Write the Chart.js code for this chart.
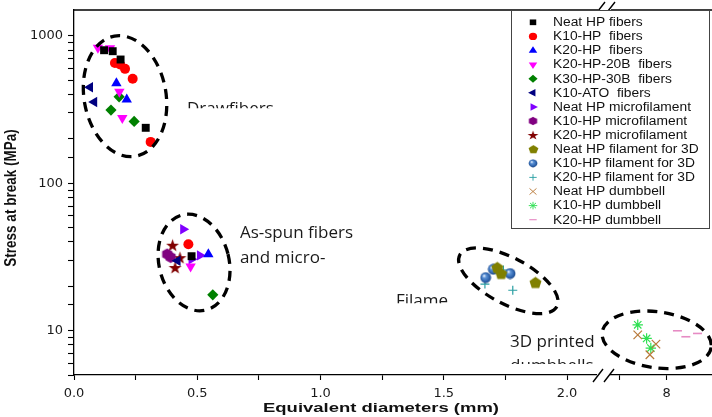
<!DOCTYPE html>
<html><head><meta charset="utf-8">
<script src="https://cdn.jsdelivr.net/npm/chart.js@4.4.1/dist/chart.umd.min.js"></script>
<style>html,body{margin:0;padding:0;background:#fff;overflow:hidden}</style>
</head><body>
<canvas id="c" width="712" height="417"></canvas>
<script>
// ---------- data ----------
const seriesNames = ['Neat HP fibers','K10-HP  fibers','K20-HP  fibers','K20-HP-20B  fibers','K30-HP-30B  fibers','K10-ATO  fibers','Neat HP microfilament','K10-HP microfilament','K20-HP microfilament','Neat HP filament for 3D','K10-HP filament for 3D','K20-HP filament for 3D','Neat HP dumbbell','K10-HP dumbbell','K20-HP dumbbell'];

const neatFibersX = [0.122, 0.157, 0.189, 0.291, 0.477];
const neatFibersY = [800, 788, 692, 238, 32];
const k10FibersX = [0.166, 0.187, 0.207, 0.238, 0.311, 0.464];
const k10FibersY = [656, 640, 598, 512, 191, 38.6];
const k20FibersX = [0.172, 0.214, 0.545];
const k20FibersY = [477, 371, 33];
const k20b20FibersX = [0.097, 0.146, 0.184, 0.196, 0.473];
const k20b20FibersY = [830, 825, 418, 277, 27.2];
const k30b30FibersX = [0.150, 0.183, 0.244, 0.563];
const k30b30FibersY = [314, 386, 263, 17.5];
const k10AtoFibersX = [0.065, 0.082, 0.420];
const k10AtoFibersY = [449, 356, 29.8];
const neatMicroX = [0.443, 0.477, 0.511];
const neatMicroY = [48.8, 30.5, 32.4];
const k10MicroX = [0.378, 0.392];
const k10MicroY = [33, 31.5];
const k20MicroX = [0.400, 0.430, 0.410];
const k20MicroY = [38, 31.3, 26.8];
const neatFil3dX = [1.715, 1.731, 1.870];
const neatFil3dY = [26.8, 24.4, 21.2];
const k10Fil3dX = [1.701, 1.769, 1.670];
const k10Fil3dY = [26.1, 24.4, 22.9];
const k20Fil3dX = [1.667, 1.742, 1.780];
const k20Fil3dY = [20.7, 25.8, 18.8];
const neatDumbX = [7.38, 7.77, 7.64];
const neatDumbY = [9.37, 8.1, 6.86];
const k10DumbX = [7.38, 7.57, 7.66];
const k10DumbY = [10.96, 8.85, 7.62];
const k20DumbX = [8.23, 8.41, 8.66];
const k20DumbY = [9.98, 9.09, 9.57];

const xMajorTicks = [0.0, 0.5, 1.0, 1.5, 2.0];
const x2MajorTicks = [8];
const yTickLabels = [10, 100, 1000];

// ---------- marker images ----------
function mk(size, draw){ const c=document.createElement('canvas'); c.width=size; c.height=size; draw(c.getContext('2d'), size/2); return c; }
function poly(g, c, n, r, start){ g.beginPath(); for(let i=0;i<n;i++){ const a=start+i*2*Math.PI/n; const px=c+r*Math.cos(a), py=c+r*Math.sin(a); if(i) g.lineTo(px,py); else g.moveTo(px,py);} g.closePath(); }
const hexImg = mk(13,(g,c)=>{ g.fillStyle='#800080'; poly(g,c,6,5.8,Math.PI/6); g.fill(); });
const pentImg = mk(14,(g,c)=>{ g.fillStyle='#808000'; poly(g,c+0.5,5,6.3,-Math.PI/2); g.fill(); });
const starImg = mk(15,(g,c)=>{ g.fillStyle='#800000'; g.beginPath(); for(let i=0;i<10;i++){ const r=i%2?2.7:6.8; const a=-Math.PI/2+i*Math.PI/5; const px=c+r*Math.cos(a), py=c+0.6+r*Math.sin(a); if(i) g.lineTo(px,py); else g.moveTo(px,py);} g.closePath(); g.fill(); });
const sphereImg = mk(12,(g,c)=>{ const gr=g.createRadialGradient(c-1.8,c-2,0.3,c,c,5.6); gr.addColorStop(0,'#f0f6ff'); gr.addColorStop(0.3,'#5d93d6'); gr.addColorStop(0.75,'#2d63ad'); gr.addColorStop(1,'#1c4683'); g.fillStyle=gr; g.beginPath(); g.arc(c,c,5.4,0,2*Math.PI); g.fill(); });

function pts(xs, ys){ return xs.map((x,i)=>({x:x, y:ys[i]})); }
function ds(i, xs, ys, style, color, radius, extra){
  return Object.assign({label:seriesNames[i], data:pts(xs,ys), xAxisID:'x', yAxisID:'y',
    pointStyle:style, pointRadius:radius, pointHoverRadius:radius,
    pointBackgroundColor:color, pointBorderColor:color, pointBorderWidth:0, pointRotation:0, showLine:false}, extra||{});
}

const datasets = [
  ds(0, neatFibersX, neatFibersY, 'rect', '#000000', 5.6),
  ds(1, k10FibersX, k10FibersY, 'circle', '#ff0000', 5),
  ds(2, k20FibersX, k20FibersY, 'triangle', '#0000ff', 6),
  ds(3, k20b20FibersX, k20b20FibersY, 'triangle', '#ff00ff', 6, {pointRotation:180}),
  ds(4, k30b30FibersX, k30b30FibersY, 'rectRot', '#008000', 5.6),
  ds(5, k10AtoFibersX, k10AtoFibersY, 'triangle', '#000080', 6, {pointRotation:270}),
  ds(6, neatMicroX, neatMicroY, 'triangle', '#8000ff', 6, {pointRotation:90}),
  ds(7, k10MicroX, k10MicroY, hexImg, '#800080', 6),
  ds(8, k20MicroX, k20MicroY, starImg, '#800000', 6),
  ds(9, neatFil3dX, neatFil3dY, pentImg, '#808000', 6),
  ds(10, k10Fil3dX, k10Fil3dY, sphereImg, '#2d63ad', 6),
  ds(11, k20Fil3dX, k20Fil3dY, 'cross', '#2a9fa3', 4.5, {pointBorderWidth:1.2}),
  ds(12, neatDumbX, neatDumbY, 'crossRot', '#b8793a', 6, {pointBorderWidth:1.2, xAxisID:'x2'}),
  ds(13, k10DumbX, k10DumbY, 'star', '#2ee052', 5.2, {pointBorderWidth:1.2, xAxisID:'x2'}),
  ds(14, k20DumbX, k20DumbY, 'line', '#e68bc4', 4.5, {pointBorderWidth:1.6, xAxisID:'x2'})
];

// ---------- annotations ----------
const ellipses = [
  {axis:'x', x:0.207, y:390, rx:41, ry:61, rot:-10},
  {axis:'x', x:0.487, y:29.0, rx:35, ry:49, rot:-14},
  {axis:'x', x:1.762, y:21.8, rx:55, ry:23, rot:28},
  {axis:'x2', x:7.786, y:8.67, rx:55, ry:28, rot:8}
];
const notes = [
  {axis:'x', x:0.458, y:297, lines:['Drawfibers'], gap:25, cut:-5.5},
  {axis:'x', x:0.673, y:42.8, lines:['As-spun fibers','and micro-'], gap:25, cut:null},
  {axis:'x', x:1.306, y:14.8, lines:['Filame'], gap:25, cut:-2.3},
  {axis:'x', x:1.769, y:7.7, lines:['3D printed','dumbbells'], gap:24, cut:-7.3}
];

const decorPlugin = {
  id:'decor',
  afterDatasetsDraw(chart){
    const ctx=chart.ctx, ys=chart.scales.y;
    ctx.save();
    ctx.strokeStyle='#000'; ctx.lineWidth=3.3; ctx.setLineDash([10,7]);
    ellipses.forEach(e=>{
      const cx=chart.scales[e.axis].getPixelForValue(e.x), cy=ys.getPixelForValue(e.y);
      ctx.beginPath(); ctx.ellipse(cx,cy,e.rx,e.ry,e.rot*Math.PI/180,0,2*Math.PI); ctx.stroke();
    });
    ctx.setLineDash([]);
    ctx.font='17px "Open Sans"'; ctx.fillStyle='#1a1a1a'; ctx.textBaseline='alphabetic';
    notes.forEach(n=>{
      const px=chart.scales[n.axis].getPixelForValue(n.x), py=ys.getPixelForValue(n.y);
      ctx.save();
      if(n.cut!==null){ const lastB=py+(n.lines.length-1)*n.gap; ctx.beginPath(); ctx.rect(0,0,chart.width,lastB+n.cut); ctx.clip(); }
      n.lines.forEach((t,k)=>ctx.fillText(t,px,py+k*n.gap));
      ctx.restore();
    });
    ctx.restore();
  },
  afterDraw(chart){
    const ctx=chart.ctx, a=chart.chartArea;
    ctx.save();
    // top frame
    ctx.strokeStyle='#000'; ctx.lineWidth=1.3;
    ctx.beginPath(); ctx.moveTo(a.left,a.top); ctx.lineTo(598,a.top); ctx.moveTo(611,a.top); ctx.lineTo(a.right,a.top); ctx.stroke();
    // axis break
    ctx.fillStyle='#fff'; ctx.fillRect(597,a.bottom-2,13,4);
    ctx.lineWidth=1.4;
    ctx.beginPath();
    ctx.moveTo(593,a.bottom+7); ctx.lineTo(603,a.bottom-6);
    ctx.moveTo(604,a.bottom+7); ctx.lineTo(614,a.bottom-6);
    ctx.moveTo(598,a.top+1); ctx.lineTo(605,a.top-8);
    ctx.moveTo(608,a.top+1); ctx.lineTo(615,a.top-8);
    ctx.stroke();
    // legend
    ctx.fillStyle='#fff'; ctx.fillRect(511,10,198,218);
    ctx.strokeStyle='#444'; ctx.lineWidth=1; ctx.strokeRect(511.5,10.5,198,218);
    chart.data.datasets.forEach((d,i)=>{
      const y=22.3+i*14.1;
      ctx.save(); ctx.translate(533,y); ctx.scale(0.82,0.72);
      ctx.fillStyle=d.pointBackgroundColor; ctx.strokeStyle=d.pointBorderColor; ctx.lineWidth=d.pointBorderWidth;
      Chart.helpers.drawPoint(ctx,{pointStyle:d.pointStyle, rotation:d.pointRotation, radius:d.pointRadius, borderWidth:d.pointBorderWidth},0,0);
      ctx.restore();
      ctx.save(); ctx.translate(553,y+0.5); ctx.scale(1.15,1);
      ctx.font='12px "Liberation Sans"'; ctx.fillStyle='#111'; ctx.textBaseline='middle'; ctx.fillText(d.label,0,0);
      ctx.restore();
    });
    // axis titles
    ctx.fillStyle='#111'; ctx.font='bold 13px "Liberation Sans"';
    ctx.save(); ctx.translate(381,412); ctx.scale(1.42,1); ctx.textAlign='center'; ctx.textBaseline='alphabetic'; ctx.fillText('Equivalent diameters (mm)',0,0); ctx.restore();
    ctx.save(); ctx.translate(11,198); ctx.scale(1.25,1); ctx.rotate(-Math.PI/2); ctx.font='bold 13.5px "Liberation Sans"'; ctx.textAlign='center'; ctx.textBaseline='middle'; ctx.fillText('Stress at break (MPa)',0,0); ctx.restore();
    ctx.restore();
  }
};

function noPad(s){ s.paddingLeft=0; s.paddingRight=0; s.paddingTop=0; s.paddingBottom=0; }
const tickFont = {family:'DejaVu Sans', size:13};
const axisGrid = {drawOnChartArea:false, drawTicks:true, tickLength:5, color:'#000', tickColor:'#000', tickWidth:1.1};
const axisBorder = {display:true, color:'#000', width:1.3};

new Chart(document.getElementById('c'), {
  type:'scatter',
  data:{datasets:datasets},
  options:{
    responsive:false, animation:false, events:[],
    layout:{autoPadding:false, padding:{top:10,right:0,bottom:0,left:0}},
    plugins:{legend:{display:false}, tooltip:{enabled:false}},
    scales:{
      x:{type:'linear', position:'bottom', stack:'xs', stackWeight:529, min:0, max:2.146,
        afterFit(s){ s.height=42; noPad(s); },
        border:axisBorder, grid:axisGrid,
        ticks:{stepSize:0.25, includeBounds:false, autoSkip:false, maxRotation:0, padding:6, color:'#1a1a1a', font:tickFont,
          callback:(v)=> xMajorTicks.some(t=>Math.abs(t-v)<1e-6) ? Number(v).toFixed(1) : ''}},
      x2:{type:'linear', position:'bottom', stack:'xs', stackWeight:109, min:6.636, max:8.97,
        afterFit(s){ s.height=42; noPad(s); },
        border:axisBorder, grid:axisGrid,
        ticks:{stepSize:1, includeBounds:false, autoSkip:false, maxRotation:0, padding:6, color:'#1a1a1a', font:tickFont,
          callback:(v)=> x2MajorTicks.includes(v) ? String(v) : ''}},
      y:{type:'logarithmic', position:'left', min:5, max:1500,
        afterFit(s){ s.width=74; noPad(s); },
        border:axisBorder,
        grid:Object.assign({}, axisGrid, {tickLength:6, tickColor:(c)=> (c.tick && c.tick.value>1000) ? 'rgba(0,0,0,0)' : '#000'}),
        ticks:{autoSkip:false, padding:5, color:'#1a1a1a', font:tickFont,
          callback:(v)=> yTickLabels.includes(v) ? String(v) : ''}}
    }
  },
  plugins:[decorPlugin]
});
</script>
</body></html>
